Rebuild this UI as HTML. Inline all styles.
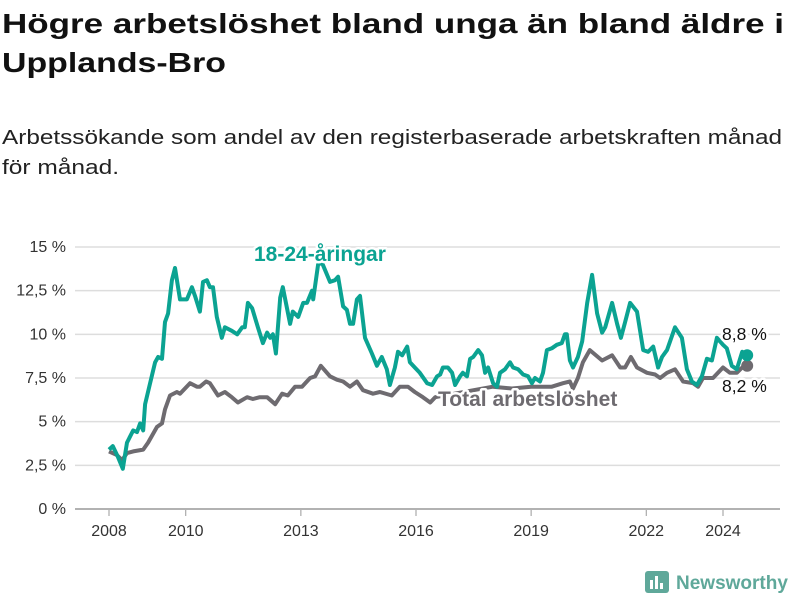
<!DOCTYPE html>
<html><head><meta charset="utf-8"><style>
body{margin:0;background:#fff;width:800px;height:600px;overflow:hidden}
svg{display:block;font-family:"Liberation Sans",sans-serif}
</style></head><body>
<svg id="chart" width="800" height="600" viewBox="0 0 800 600">
<text x="2" y="33" font-size="28" font-weight="bold" fill="#111" textLength="782" lengthAdjust="spacingAndGlyphs">Högre arbetslöshet bland unga än bland äldre i</text>
<text x="2" y="72" font-size="28" font-weight="bold" fill="#111" textLength="224" lengthAdjust="spacingAndGlyphs">Upplands-Bro</text>
<text x="2" y="144" font-size="20" fill="#222" textLength="780" lengthAdjust="spacingAndGlyphs">Arbetssökande som andel av den registerbaserade arbetskraften månad</text>
<text x="2" y="174" font-size="20" fill="#222" textLength="117" lengthAdjust="spacingAndGlyphs">för månad.</text>
<g id="grid"></g><g id="xaxis"></g><g id="lines"></g><g id="labels"></g>
<g>
<rect x="645" y="571" width="24" height="22" rx="3" fill="#5fa89a"/>
<rect x="650" y="580" width="3" height="9" fill="#fff"/><rect x="655" y="576" width="3" height="13" fill="#fff"/><rect x="660" y="583" width="3" height="6" fill="#fff"/>
<text x="676" y="589" font-size="19" font-weight="bold" fill="#5fa89a">Newsworthy</text>
</g>
</svg>
<script>
const yTicks=[0,2.5,5,7.5,10,12.5,15];
const yTickLabels=["0 %","2,5 %","5 %","7,5 %","10 %","12,5 %","15 %"];
const xTicks=[2008,2010,2013,2016,2019,2022,2024];
const youthT=[2008.0,2008.1,2008.23,2008.36,2008.47,2008.63,2008.73,2008.81,2008.89,2008.94,2009.07,2009.2,2009.28,2009.38,2009.46,2009.54,2009.64,2009.72,2009.85,2010.03,2010.16,2010.24,2010.37,2010.45,2010.55,2010.63,2010.71,2010.81,2010.94,2011.02,2011.2,2011.34,2011.47,2011.54,2011.62,2011.73,2011.88,2012.01,2012.12,2012.2,2012.27,2012.35,2012.46,2012.53,2012.72,2012.79,2012.93,2013.06,2013.16,2013.29,2013.32,2013.45,2013.55,2013.76,2013.89,2013.97,2014.1,2014.2,2014.28,2014.36,2014.46,2014.54,2014.67,2014.85,2014.98,2015.11,2015.24,2015.32,2015.45,2015.53,2015.64,2015.77,2015.84,2015.97,2016.1,2016.29,2016.42,2016.55,2016.63,2016.7,2016.83,2016.94,2017.02,2017.15,2017.22,2017.33,2017.41,2017.49,2017.62,2017.72,2017.8,2017.88,2018.01,2018.11,2018.19,2018.32,2018.45,2018.53,2018.66,2018.79,2018.92,2019.02,2019.1,2019.23,2019.31,2019.41,2019.54,2019.67,2019.8,2019.88,2019.93,2020.01,2020.09,2020.22,2020.33,2020.46,2020.59,2020.72,2020.85,2020.93,2021.11,2021.24,2021.34,2021.45,2021.58,2021.76,2021.92,2022.05,2022.18,2022.31,2022.41,2022.54,2022.75,2022.93,2023.06,2023.19,2023.32,2023.45,2023.58,2023.71,2023.84,2024.0,2024.1,2024.23,2024.36,2024.5,2024.63];
const youthV=[3.4,3.6,3.0,2.3,3.8,4.5,4.4,4.9,4.5,6.0,7.2,8.4,8.7,8.6,10.7,11.2,13.1,13.8,12.0,12.0,12.7,12.2,11.3,13.0,13.1,12.7,12.7,11.0,9.8,10.4,10.2,10.0,10.4,10.4,11.8,11.5,10.4,9.5,10.1,9.8,10.0,8.9,12.1,12.7,10.6,11.3,11.0,11.8,11.8,12.5,12.0,14.0,14.1,13.0,13.1,13.3,11.6,11.4,10.6,10.6,12.0,12.2,9.8,8.9,8.2,8.7,8.0,7.1,8.1,9.0,8.8,9.3,8.4,8.1,7.8,7.2,7.1,7.6,7.7,8.1,8.1,7.8,7.1,7.6,7.8,7.6,8.6,8.7,9.1,8.8,7.8,8.1,7.2,7.0,7.8,8.0,8.4,8.1,8.0,7.7,7.6,7.2,7.5,7.3,7.8,9.1,9.2,9.4,9.5,10.0,10.0,8.5,8.1,8.7,9.6,11.8,13.4,11.2,10.1,10.4,11.8,10.6,9.8,10.7,11.8,11.3,9.1,9.0,9.3,8.1,8.7,9.1,10.4,9.8,8.0,7.3,7.1,7.6,8.6,8.5,9.8,9.4,9.2,8.2,8.0,9.0,8.8];
const totalT=[2008.0,2008.2,2008.34,2008.47,2008.63,2008.89,2009.02,2009.25,2009.38,2009.46,2009.59,2009.77,2009.85,2010.11,2010.29,2010.37,2010.53,2010.63,2010.84,2011.02,2011.2,2011.36,2011.6,2011.75,2011.93,2012.12,2012.33,2012.51,2012.66,2012.85,2013.03,2013.24,2013.37,2013.52,2013.76,2013.94,2014.1,2014.28,2014.46,2014.62,2014.88,2015.06,2015.37,2015.58,2015.79,2015.97,2016.18,2016.37,2016.5,2017.0,2017.5,2018.0,2018.5,2019.0,2019.54,2019.83,2020.01,2020.09,2020.22,2020.35,2020.53,2020.85,2021.11,2021.32,2021.45,2021.6,2021.76,2022.02,2022.23,2022.36,2022.54,2022.75,2022.96,2023.22,2023.35,2023.48,2023.74,2024.0,2024.18,2024.36,2024.5,2024.63];
const totalV=[3.3,3.1,2.8,3.2,3.3,3.4,3.8,4.7,4.9,5.7,6.5,6.7,6.6,7.2,7.0,7.0,7.3,7.2,6.5,6.7,6.4,6.1,6.4,6.3,6.4,6.4,6.0,6.6,6.5,7.0,7.0,7.5,7.6,8.2,7.6,7.4,7.3,7.0,7.3,6.8,6.6,6.7,6.5,7.0,7.0,6.7,6.4,6.1,6.4,6.6,6.8,7.0,6.9,7.0,7.0,7.2,7.3,6.9,7.5,8.4,9.1,8.5,8.8,8.1,8.1,8.7,8.1,7.8,7.7,7.5,7.8,8.0,7.3,7.2,7.0,7.5,7.5,8.1,7.8,7.8,8.1,8.2];
const NS="http://www.w3.org/2000/svg";
const X=t=>109+(t-2008)*38.375, Y=v=>509-v*17.467;
function mk(tag,attrs,parent){const e=document.createElementNS(NS,tag);for(const k in attrs)e.setAttribute(k,attrs[k]);parent.appendChild(e);return e;}
const grid=document.getElementById('grid');
yTicks.forEach((v,i)=>{
 const l=mk('line',{x1:75,x2:780,y1:Y(v),y2:Y(v),stroke:v===0?'#999':'#ddd','stroke-width':1.5},grid);
 
 
 const t=mk('text',{x:66,y:Y(v)+5,'text-anchor':'end','font-size':16,fill:'#333'},grid);
 t.textContent=yTickLabels[i];
 
 
});
const xa=document.getElementById('xaxis');
xTicks.forEach(y=>{
 const l=mk('line',{x1:X(y),x2:X(y),y1:510,y2:516,stroke:'#999','stroke-width':1},xa);
 
 
 const t=mk('text',{x:X(y),y:536,'text-anchor':'middle','font-size':16,fill:'#333'},xa);
 t.textContent=y;
 
 
});
const lines=document.getElementById('lines');
function path(T,V){return T.map((t,i)=>(i?'L':'M')+X(t).toFixed(1)+','+Y(V[i]).toFixed(1)).join('');}
const gp=mk('path',{d:path(totalT,totalV),fill:'none',stroke:'#6e6b70','stroke-width':4,'stroke-linejoin':'round'},lines);


const yp=mk('path',{d:path(youthT,youthV),fill:'none',stroke:'#0ba392','stroke-width':4,'stroke-linejoin':'round'},lines);


const gd=mk('circle',{cx:X(totalT[totalT.length-1]),cy:Y(totalV[totalV.length-1]),r:6,fill:'#6e6b70'},lines);


const yd=mk('circle',{cx:X(youthT[youthT.length-1]),cy:Y(youthV[youthV.length-1]),r:6,fill:'#0ba392'},lines);


const lab=document.getElementById('labels');
function label(x,y,txt,fill,name,bold,anchor){
 const fs=bold?21:17.5;
 const h=mk('text',{x:x,y:y,'font-size':fs,'font-weight':bold?'bold':'normal',fill:'none',stroke:'#fff','stroke-width':5,'stroke-linejoin':'round','text-anchor':anchor||'start'},lab);h.textContent=txt;
 const t=mk('text',{x:x,y:y,'font-size':fs,'font-weight':bold?'bold':'normal',fill:fill,'text-anchor':anchor||'start'},lab);t.textContent=txt;
 
 
}
label(254,261,'18-24-åringar','#0ba392','youth-series-label',true);
label(438,406,'Total arbetslöshet','#6e6b70','total-series-label',true);
label(722,340,'8,8 %','#111','youth-end-value',false);
label(722,392,'8,2 %','#111','total-end-value',false);
</script>
</body></html>
